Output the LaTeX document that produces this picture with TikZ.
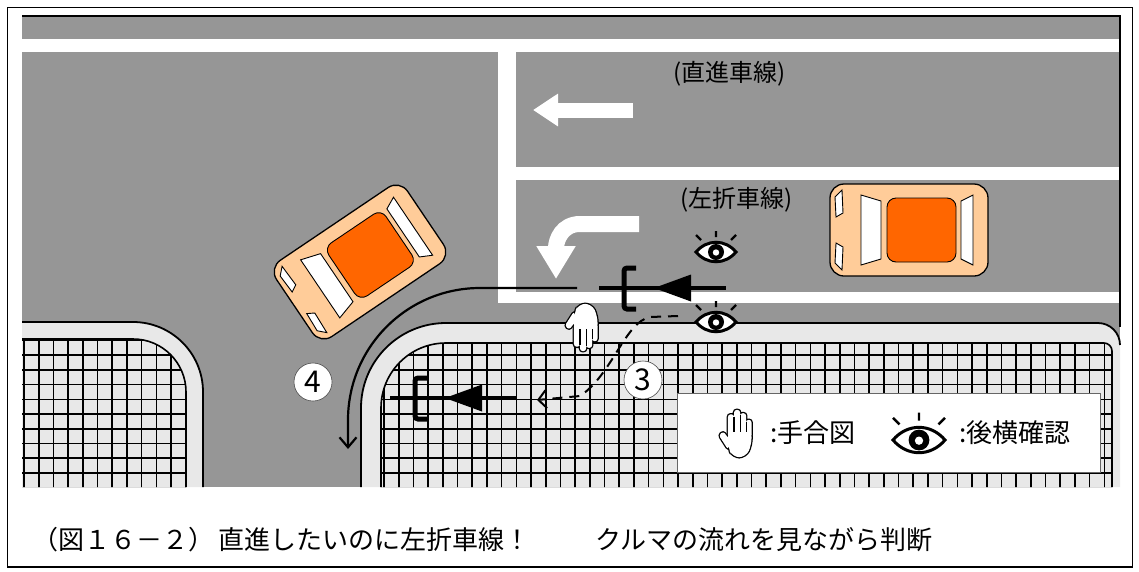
\documentclass[tikz,border=0pt]{standalone}
\usepackage{fontspec}
\newfontfamily\jpfont{Noto Sans CJK JP}
\usetikzlibrary{arrows.meta}

\definecolor{asphalt}{gray}{0.59}
\definecolor{pavement}{gray}{0.91}
\definecolor{carbody}{RGB}{255,204,153}
\definecolor{carroof}{RGB}{255,102,0}

% hand parts: drawn once thick (outline), then once filled white
\newcommand\handparts[1]{
  \path[#1, rounded corners=2.6pt]
    (-8.2,4) rectangle (-2.7,-17)
    (-2.7,4) rectangle (2.8,-21)
    (2.8,4) rectangle (8.3,-18)
    (8.3,4) rectangle (13.2,-12);
  \path[#1, rounded corners=7pt]
    (-8.2,-3) -- (13.2,-3) -- (13.2,11) -- (8,22) -- (-4,22) -- (-8.2,13) -- cycle;
  \path[#1, rounded corners=2.6pt]
    (-8.2,15) -- (-16.5,2) -- (-12.5,-1.5) -- (-6,7) -- cycle;
}

\tikzset{
  whiteline/.style={fill=white},
  curb/.style={draw=black, line width=1.8pt},
  gridline/.style={line width=1.6pt},
  trackline/.style={line width=2.2pt},
  lanelabel/.style={font=\jpfont\fontsize{24}{24}\selectfont, inner sep=0pt, anchor=west},
  keytext/.style={font=\jpfont\fontsize{26}{26}\selectfont, inner sep=0pt, anchor=west},
  captext/.style={font=\jpfont\fontsize{26}{26}\selectfont, inner sep=0pt, anchor=west},
  numring/.style={circle, draw=black!70, line width=0.6pt, fill=white, minimum size=38pt,
    inner sep=0pt, font=\jpfont\fontsize{30}{30}\selectfont},
  hand/.pic={
    \handparts{draw=black, line width=2.6pt}
    \handparts{fill=white}
    \draw[line width=1.1pt] (-2.7,-15) -- (-2.7,-1) (2.8,-16) -- (2.8,-1) (8.3,-10) -- (8.3,-1);
  },
  eye/.pic={
    \draw[line width=3pt, fill=white] (-20,0) .. controls (-9,-13) and (9,-13) .. (20,0)
      .. controls (9,13) and (-9,13) .. (-20,0) -- cycle;
    \fill (0,0) circle (8);
    \fill[white] (0,0.5) circle (3.2);
    \draw[line width=2.4pt] (0,-15) -- (0,-21) (-15,-12) -- (-20,-17) (15,-12) -- (20,-17);
  },
  car/.pic={
    \draw[fill=carbody, line width=1.3pt, rounded corners=14pt] (-79,-46) rectangle (79,46);
    \draw[fill=white, line width=0.9pt] (-74,-33) -- (-67,-40) -- (-66,-17) -- (-73,-13) -- cycle;
    \draw[fill=white, line width=0.9pt] (-74,33) -- (-67,40) -- (-66,17) -- (-73,13) -- cycle;
    \draw[fill=white, line width=0.9pt] (-48,-35) -- (-28,-29) -- (-28,29) -- (-48,35) -- cycle;
    \draw[fill=carroof, line width=0.9pt, rounded corners=9pt] (-22,-32) rectangle (47,32);
    \draw[fill=white, line width=0.9pt] (52,-29) -- (64,-35) -- (64,35) -- (52,29) -- cycle;
  },
  bike/.pic={
    \draw[line width=4pt] (-25,0) -- (102,0);
    \draw[line width=5pt, rounded corners=3pt] (12,-20) -- (0,-20) -- (0,21) -- (12,21);
    \fill (30,0) -- (67,-13.5) -- (67,13.5) -- cycle;
  }
}

\begin{document}
\begin{tikzpicture}[x=1pt, y=-1pt]
  \useasboundingbox (0,0) rectangle (1139,571);
  \fill[white] (0,0) rectangle (1139,571);
  \draw[line width=1.2pt] (7.5,7.5) rectangle (1132.5,567);

  % road surface and lane markings
  \fill[asphalt] (22,16) rectangle (1120,487);
  \fill[whiteline] (22,39) rectangle (1120,52);
  \fill[whiteline] (498,52) rectangle (516,303);
  \fill[whiteline] (516,167) rectangle (1120,180);
  \fill[whiteline] (498,292) rectangle (1120,303);

  % left corner block
  \fill[pavement] (22,322) -- (133,322) arc[start angle=270, end angle=360, radius=70]
    -- (203,487) -- (22,487) -- cycle;
  \begin{scope}
    \clip (22,339) -- (133,339) arc[start angle=270, end angle=360, radius=53]
      -- (186,487) -- (22,487) -- cycle;
    \foreach \gx in {24,38.7,...,190} \draw[gridline] (\gx,330) -- (\gx,490);
    \foreach \gy in {340.5,355.2,...,490} \draw[gridline] (20,\gy) -- (200,\gy);
  \end{scope}
  \draw[gridline] (22,339) -- (133,339) arc[start angle=270, end angle=360, radius=53] -- (186,487);
  \draw[curb] (22,322) -- (133,322) arc[start angle=270, end angle=360, radius=70] -- (203,487);

  % right corner block
  \fill[pavement] (361,487) -- (361,408) arc[start angle=180, end angle=270, radius=85]
    -- (1098,323) arc[start angle=270, end angle=360, radius=22] -- (1120,487) -- cycle;
  \begin{scope}
    \clip (381,487) -- (381,408) arc[start angle=180, end angle=270, radius=65]
      -- (1104,343) arc[start angle=270, end angle=360, radius=8] -- (1112,487) -- cycle;
    \foreach \gx in {384,398.7,...,1115} \draw[gridline] (\gx,330) -- (\gx,490);
    \foreach \gy in {340.5,355.2,...,490} \draw[gridline] (375,\gy) -- (1115,\gy);
  \end{scope}
  \draw[gridline] (381,487) -- (381,408) arc[start angle=180, end angle=270, radius=65]
    -- (1104,343) arc[start angle=270, end angle=360, radius=8] -- (1112,487);
  \draw[curb] (361,487) -- (361,408) arc[start angle=180, end angle=270, radius=85]
    -- (1098,323) arc[start angle=270, end angle=360, radius=22];

  % frame of the road picture
  \draw[line width=1.5pt] (22,16) -- (1120,16) -- (1120,327);

  % key box
  \draw[draw=black!60, fill=white, line width=0.8pt] (677,393) rectangle (1100,472);

  % painted arrows
  \draw[white, line width=15pt, -{Triangle[length=25pt, width=31pt]}] (633,110) -- (533,110);
  \draw[white, line width=16pt, -{Triangle[length=33pt, width=37pt]}]
    (639,224) -- (580,224) .. controls (562,224) and (556,240) .. (556,279);

  % lane labels
  \node[lanelabel] (straightlane) at (673,74) {(直進車線)};
  \node[lanelabel] (turnlane) at (680,200) {(左折車線)};

  % turning path
  \coordinate (turnstart) at (577,288);
  \coordinate (turnend) at (348,449);
  \draw[trackline, -{Straight Barb[length=10pt, width=17pt]}]
    (turnstart) -- (480,288) arc[start angle=-90, end angle=-180, radius=132] -- (turnend);

  % straight-on path
  \coordinate (swerve) at (678,316);
  \coordinate (swerveend) at (537,400);
  \draw[line width=2pt, dash pattern=on 10pt off 7pt, -{Straight Barb[length=8pt, width=18pt]}]
    (swerve) -- (650,317) .. controls (625,322) and (612,375) .. (580,396) -- (swerveend);

  % cycles
  \pic at (624,288) {bike};
  \pic at (415,398) {bike};

  % cars
  \pic[rotate=34] at (360,262) {car};
  \pic at (909,230) {car};

  % checks and signals
  \pic at (716,252) {eye};
  \pic at (716,322) {eye};
  \pic[scale=1.1, yscale=-1] at (583,328) {hand};

  \node[numring] (stepthree) at (643,380) {3};
  \node[numring] (stepfour) at (313,382) {4};

  % key
  \pic[scale=1.1] at (737,433) {hand};
  \node[keytext] (handkey) at (770,433) {:手合図};
  \pic[scale=1.3] at (919,440) {eye};
  \node[keytext] (eyekey) at (959,433) {:後横確認};

  % caption
  \node[captext] (capnum) at (32,540) {（図１６－２）};
  \node[captext] (capmain) at (218,540) {直進したいのに左折車線！};
  \node[captext] (capsub) at (595,540) {クルマの流れを見ながら判断};
\end{tikzpicture}
\end{document}
